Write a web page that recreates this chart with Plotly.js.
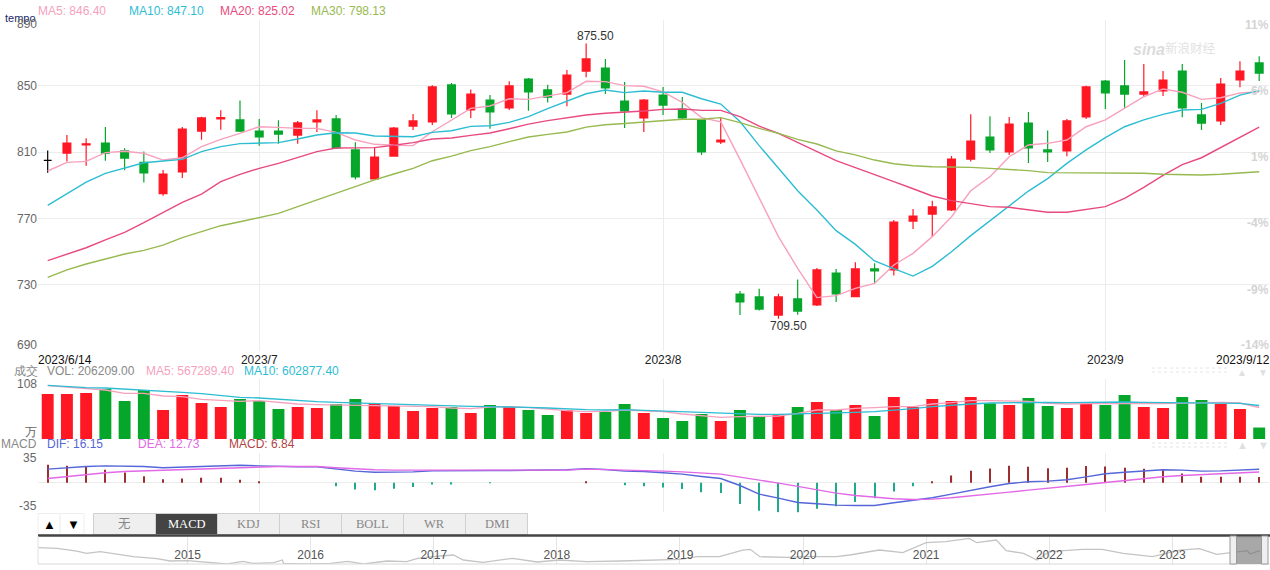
<!DOCTYPE html>
<html>
<head>
<meta charset="utf-8">
<script src="https://cdn.plot.ly/plotly-3.0.1.min.js"></script>
<style>html,body{margin:0;padding:0;background:#fff;overflow:hidden}#chart{width:1270px;height:570px}</style>
</head>
<body>
<div id="chart"></div>
<script>
const dates = ['2023-06-14','2023-06-15','2023-06-16','2023-06-19','2023-06-20','2023-06-21','2023-06-26','2023-06-27','2023-06-28','2023-06-29','2023-06-30',
'2023-07-03','2023-07-04','2023-07-05','2023-07-06','2023-07-07','2023-07-10','2023-07-11','2023-07-12','2023-07-13','2023-07-14','2023-07-17','2023-07-18','2023-07-19','2023-07-20','2023-07-21','2023-07-24','2023-07-25','2023-07-26','2023-07-27','2023-07-28','2023-07-31',
'2023-08-01','2023-08-02','2023-08-03','2023-08-04','2023-08-07','2023-08-08','2023-08-09','2023-08-10','2023-08-11','2023-08-14','2023-08-15','2023-08-16','2023-08-17','2023-08-18','2023-08-21','2023-08-22','2023-08-23','2023-08-24','2023-08-25','2023-08-28','2023-08-29','2023-08-30','2023-08-31',
'2023-09-01','2023-09-04','2023-09-05','2023-09-06','2023-09-07','2023-09-08','2023-09-11','2023-09-12','2023-09-13'];
const open  = [805.0,809.4,814.4,815.5,810.7,803.8,784.9,798.0,822.7,830.0,829.4,822.7,822.7,820.3,828.2,830.0,811.3,793.8,807.6,825.7,
828.2,850.5,835.4,841.4,836.6,854.1,847.5,845.0,858.9,860.7,840.8,830.6,844.4,836.0,829.4,816.1,724.4,722.6,711.7,721.4,717.8,737.0,722.8,739.5,738.9,768.4,772.6,775.1,
805.8,819.1,810.1,827.5,811.3,810.7,831.2,852.9,849.9,845.0,846.9,858.9,832.4,828.8,853.5,863.8];
const close = [805.0,815.5,815.0,809.4,806.4,797.4,796.8,823.9,830.6,830.8,822.7,819.1,820.9,827.6,829.4,812.5,795.0,807.0,824.5,828.8,
849.3,833.0,845.0,834.2,849.9,846.3,843.2,856.5,866.2,848.7,834.8,841.4,838.4,830.6,810.1,817.3,719.6,715.3,722.6,714.1,738.9,724.4,739.5,738.3,767.8,771.4,776.9,805.8,
816.7,811.3,826.9,812.5,810.1,828.8,849.3,845.7,845.0,846.3,853.5,836.6,827.5,851.1,858.9,857.7];
const high  = [810.9,820.3,818.3,825.1,812.3,810.3,799.2,825.1,831.4,835.2,841.2,830.0,829.2,828.8,835.2,832.4,815.9,813.1,825.1,833.0,
850.3,851.7,847.7,844.4,852.7,854.7,850.7,859.5,875.5,866.2,852.3,842.0,849.3,843.2,830.0,830.6,726.2,727.6,724.6,733.2,740.1,739.5,743.5,742.9,769.0,775.7,780.7,807.6,
832.8,831.6,831.2,834.2,823.1,830.0,850.1,853.5,865.6,863.2,858.9,863.2,839.6,854.7,864.8,867.8];
const low   = [797.6,804.4,801.8,804.8,799.0,791.6,783.7,794.4,817.5,823.5,822.1,813.9,815.1,815.1,822.1,811.9,793.4,793.8,807.6,823.3,
826.3,830.6,830.6,824.1,835.4,835.0,840.0,837.6,855.1,845.0,824.5,822.1,832.4,829.8,808.3,814.9,711.7,714.5,709.5,711.9,717.1,719.6,722.8,730.8,735.6,763.6,758.8,774.5,
804.4,809.5,808.3,803.4,804.0,807.5,830.0,836.0,836.4,843.2,843.8,831.0,823.3,826.3,849.1,852.9];

const ma5  = [798.6,803.8,804.4,809.7,810.5,809.3,805.2,806.6,813.3,817.7,821.3,825.3,824.9,824.3,824.3,821.9,817.3,814.7,814.1,813.9,
822.3,829.4,836.4,837.8,842.2,841.8,843.8,845.9,852.7,852.5,850.1,849.7,846.3,840.0,830.8,828.2,805.6,782.1,759.0,739.9,722.2,723.4,727.8,730.8,741.9,748.9,759.0,771.0,
786.7,795.2,807.2,814.3,815.3,817.3,825.3,829.4,836.4,843.4,848.1,846.1,841.8,842.8,845.7,846.4];
const ma10 = [777.9,784.7,791.9,797.2,800.6,803.6,804.6,805.6,810.3,813.3,815.1,815.3,815.7,817.9,820.3,821.7,821.5,819.7,819.3,819.3,
821.9,822.9,825.5,825.9,827.9,831.4,836.2,840.8,845.2,847.5,845.9,846.9,846.1,846.1,842.2,839.0,828.4,813.9,800.2,786.7,775.1,762.6,754.3,744.3,739.7,735.2,741.1,749.9,
759.6,768.6,777.7,786.5,794.0,803.2,811.3,818.7,825.3,829.4,832.8,835.4,835.8,839.4,844.4,847.1];
const ma20 = [744.5,748.5,752.3,757.0,761.6,767.4,773.7,779.7,784.7,792.2,796.6,800.2,803.2,806.8,810.3,812.5,812.7,812.7,814.1,815.7,
817.9,818.5,820.1,821.5,824.1,826.9,829.0,830.6,832.4,833.4,834.0,834.8,835.8,836.0,835.2,835.2,831.4,825.7,821.3,815.7,810.3,804.8,800.6,796.2,792.2,787.9,783.5,780.7,
778.7,777.1,776.7,775.3,773.7,773.7,775.5,777.1,782.1,788.7,796.0,802.4,806.6,812.7,818.9,825.02];
const ma30 = [734.4,738.9,742.5,745.3,748.5,750.7,753.9,758.4,762.2,765.6,768.0,770.4,773.0,777.1,781.1,785.5,789.1,793.2,796.8,800.2,
804.8,807.6,810.9,813.3,816.3,819.1,820.7,822.1,825.1,826.5,827.3,828.2,829.0,829.8,829.8,830.8,827.8,824.3,821.3,817.7,814.9,810.7,808.3,805.2,803.0,801.8,801.2,801.2,
800.8,800.2,799.6,798.8,797.6,797.6,797.6,797.6,797.4,797.2,796.6,796.2,796.2,796.6,797.2,798.13];

const volume = [81,81,82.8,90,68.4,88.2,52.2,79.2,64.8,57.6,72,68.4,54,57.6,55.8,63,72,63,59.4,50.4,
55.8,57.6,46.8,61.2,57.6,52.2,43.2,52.2,46.8,48.6,63,46.8,37.8,32.4,45,32.4,52.2,41.4,45,57.6,66.6,52.2,
61.2,41.4,75.6,57.6,72,68.4,75.6,64.2,61.2,73.8,59.4,55.8,64.2,61.2,79.2,57.6,55.8,75.6,70.2,63,54,20.62];
const volUp = [1,1,1,0,0,0,1,1,1,1,0,0,0,1,1,0,0,1,1,1,
1,0,1,0,1,0,0,1,1,0,0,1,0,0,0,1,0,0,1,0,1,0,
1,0,1,1,1,1,1,0,1,0,0,1,1,0,0,1,1,0,0,1,1,0];
const volMa5 = [96,93,90.6,88.2,82.2,82.2,77.4,76.2,71.4,70.2,67.8,69,65.4,63,61.8,61.2,61.8,61.2,60.6,60,
58.2,55.8,54.6,57.6,58.2,56.4,53.4,51,49.2,49.8,52.2,51,49.2,45,41.4,39,40.2,40.2,41.4,46.2,52.2,52.2,
55.2,56.4,58.2,58.2,63,65.4,69,69,67.8,67.8,64.2,63,63.6,64.2,64.8,64.2,63.6,64.8,65.4,66,64.8,56.73];
const volMa10 = [96.6,94.2,92.4,91.8,90,88.8,86.4,84,81.6,78.6,75,73.8,71.4,69,67.2,66,64.8,64.2,63.6,61.8,
61.2,60,58.8,58.2,58.2,57,55.8,54,52.8,52.2,52.8,51.6,50.4,48.6,47.4,45.6,45,44.4,44.4,45,46.8,47.4,
48,49.2,51.6,54.6,58.2,61.2,63,64.8,65.4,65.4,66,65.4,66,66,66.6,66,65.4,65.4,65.4,64.8,64.2,60.29];

const dif = [16.2,17.8,19.4,20.1,20.1,19.4,17.8,18.6,20.1,20.9,20.9,20.1,19.4,19.0,19.0,16.2,13.8,12.6,12.6,13.0,
14.2,14.6,14.6,14.6,14.6,14.6,15.0,15.4,16.6,15.8,13.8,13.4,11.9,10.3,7.5,5.1,-3.2,-13.4,-18.2,-23.3,-24.9,-26.5,
-26.9,-26.9,-23.7,-20.9,-17.8,-13.4,-8.7,-4.7,-0.8,1.2,2.0,3.6,7.1,10.7,12.6,14.2,15.4,15.0,13.8,14.2,15.4,16.15];
const dea = [5.1,7.5,9.9,11.9,13.4,14.2,15.4,16.2,17.0,17.8,18.6,19.4,19.4,19.4,19.4,17.8,16.2,15.4,15.0,15.0,
14.2,14.6,14.6,14.6,14.6,14.6,14.6,15.0,16.2,15.8,15.4,14.2,13.8,13.0,11.9,10.3,6.7,3.6,-0.4,-4.3,-8.3,-12.2,
-15.0,-17.4,-19.0,-19.8,-19.4,-17.8,-15.8,-13.4,-11.1,-8.7,-6.7,-4.3,-2.0,0.4,2.8,5.1,7.1,8.7,9.5,10.7,11.9,12.73];
const macd = [21.3,20.1,19.0,15.4,12.2,7.9,4.3,5.1,5.9,5.9,3.6,1.2,0,0,0,-4.0,-7.9,-8.7,-7.1,-5.1,
-2.0,-2.0,0,-0.5,0,0,0,0,1.2,0,-2.8,-4.0,-5.5,-7.5,-11.1,-12.2,-25.3,-33.2,-35.2,-35.5,-30.8,-27.7,
-22.8,-18.2,-10.3,-4.0,1.2,8.7,14.2,17.0,20.1,19.0,17.4,17.8,19.8,19.4,17.8,16.6,15.0,11.1,7.1,7.1,7.1,6.84];

const overviewYears = [2013.79,2013.94,2014.10,2014.18,2014.29,2014.56,2014.75,2014.86,2015.0,2015.16,2015.32,2015.45,2015.53,2015.70,2015.77,2015.78,2015.97,2016.16,2016.30,2016.43,2016.62,2016.78,2016.87,
2017.05,2017.16,2017.24,2017.40,2017.64,2017.84,2018.02,2018.24,2018.51,2018.78,2019.0,2019.14,2019.32,2019.51,2019.57,2019.65,2019.87,2020.03,2020.27,
2020.38,2020.62,2020.81,2020.92,2021.0,2021.16,2021.35,2021.41,2021.57,2021.65,2021.79,2021.90,2022.0,2022.27,2022.43,2022.6,2022.84,2023.06,2023.22,2023.36,2023.47,2023.61,2023.63,2023.71];
const overviewValues = [49,47,39,32,37,22,16,9,10,4,0,8,2,4,12,2,0,2,8,0,9,7,17,
24,27,12,5,17,6,12,7,9,12,14,22,22,42,44,22,20,22,22,
27,42,34,52,64,67,77,64,72,40,32,12,37,44,44,32,22,42,46,29,34,40,30,40];
const overviewTicks = [2015,2016,2017,2018,2019,2020,2021,2022,2023];

const priceTicks = [690,730,770,810,850,890];
const percentLabels = ['-14%','-9%','-4%','1%','6%','11%'];
const monthTicks = ['2023-07-03','2023-08-01','2023-09-01'];
const monthLabels = ['2023/7','2023/8','2023/9'];
const tabLabels = ['无','MACD','KDJ','RSI','BOLL','WR','DMI'];

const RED='#FF1723', GREEN='#05A62A', C5='#F7A1BD', C10='#2DBDD3', C20='#E84A80', C30='#97B94F';
const FONT='"Liberation Sans", Arial, sans-serif';
const W=1270, H=570;
const fx=p=>p/W, fy=p=>1-p/H;
const line=(y,color,yaxis,name,w)=>({type:'scatter',mode:'lines',x:dates,y,name,yaxis,xaxis:'x',line:{color,width:w||1.4},hoverinfo:'skip'});

const traces=[
 {type:'candlestick',name:'K',x:dates.slice(1),open:open.slice(1),high:high.slice(1),low:low.slice(1),close:close.slice(1),
  increasing:{line:{color:RED,width:1.2},fillcolor:RED},decreasing:{line:{color:GREEN,width:1.2},fillcolor:GREEN},hoverinfo:'skip',xaxis:'x',yaxis:'y'},
 {type:'candlestick',name:'K0',x:dates.slice(0,1),open:open.slice(0,1),high:high.slice(0,1),low:low.slice(0,1),close:close.slice(0,1),
  increasing:{line:{color:'#000',width:1.2},fillcolor:'#000'},decreasing:{line:{color:'#000',width:1.2},fillcolor:'#000'},hoverinfo:'skip',xaxis:'x',yaxis:'y'},
 line(ma5,C5,'y','MA5'),line(ma10,C10,'y','MA10'),line(ma20,C20,'y','MA20'),line(ma30,C30,'y','MA30'),
 {type:'bar',name:'VOL',x:dates,y:volume,width:0.62,marker:{color:volUp.map(u=>u?RED:GREEN),line:{width:0}},xaxis:'x',yaxis:'y2',hoverinfo:'skip'},
 line(volMa5,C5,'y2','VOL MA5'),line(volMa10,C10,'y2','VOL MA10'),
 {type:'bar',name:'MACD',x:dates,y:macd,width:0.06,marker:{color:macd.map(v=>v>=0?'#9B2F2F':'#1FA98F'),line:{width:0}},xaxis:'x',yaxis:'y3',hoverinfo:'skip'},
 line(dif,'#5566D8','y3','DIF'),line(dea,'#E268E6','y3','DEA'),
 {type:'scatter',mode:'lines',name:'overview',x:overviewYears,y:overviewValues,line:{color:'#C4C4C4',width:1.3},xaxis:'x2',yaxis:'y4',hoverinfo:'skip'}
];

const txt=(text,x,y,color,size,anchor,extra)=>Object.assign({text,x:fx(x),y:fy(y),xref:'paper',yref:'paper',xanchor:anchor||'left',yanchor:'middle',
  showarrow:false,borderpad:0,borderwidth:0,font:{family:FONT,size:size||12,color:color||'#666'}},extra||{});

const annotations=[
 txt('MA5: 846.40',38,11,C5),txt('MA10: 847.10',129,11,C10),txt('MA20: 825.02',220,11,C20),txt('MA30: 798.13',311,11,C30),
 txt('tempo',5,18,'#1B2A6B',11),
 txt(String(priceTicks[5]),37,24,'#666',12,'right'),txt(String(priceTicks[0]),37,345,'#666',12,'right'),
 txt('2023/6/14',38,360,'#111',12),txt('2023/9/12',1270,360,'#111',12,'right'),
 txt('成交',38,371,'#888',12,'right'),txt('VOL: 206209.00',47,370.5,'#888'),txt('MA5: 567289.40',146,370.5,C5),txt('MA10: 602877.40',244,370.5,C10),
 txt('108',37,384,'#666',12,'right'),txt('万',37,432,'#666',12,'right'),
 txt('MACD',37,444,'#888',12,'right'),txt('DIF: 16.15',47,444,'#5566D8'),txt('DEA: 12.73',138,444,'#E268E6'),txt('MACD: 6.84',229,444,'#B04545'),
 txt('35',37,458,'#666',12,'right'),txt('-35',37,506,'#666',12,'right'),
 txt('▲',49,524,'#000',13,'center'),txt('▼',73,524,'#000',13,'center'),
 txt('▲',1242,372,'#E0E0E0',10,'center'),txt('▼',1263,372,'#E0E0E0',10,'center'),
 txt('▲',1242,445,'#E0E0E0',11,'center'),txt('▼',1263,445,'#E0E0E0',11,'center'),
 txt('sina',1133,49,'#D4D4D4',15,'left',{font:{family:FONT,size:16,color:'#DCDCDC',weight:700,style:'italic'}}),
 txt('新浪财经',1165,47,'#DADADA',13,'left',{font:{family:'"Noto Sans CJK SC"',size:12.5,color:'#E2E2E2'}}),
 {text:'875.50',x:dates[28],y:875.5,xref:'x',yref:'y',yshift:8,xshift:9,xanchor:'center',yanchor:'middle',showarrow:false,font:{family:FONT,size:12,color:'#333'}},
 {text:'709.50',x:dates[38],y:709.5,xref:'x',yref:'y',yshift:-7,xshift:10,xanchor:'center',yanchor:'middle',showarrow:false,font:{family:FONT,size:12,color:'#333'}},
];
percentLabels.forEach((t,i)=>{
  const yp = 351-(priceTicks[i]-690)*1.6575 + (i===0?-6:5);
  annotations.push(txt(t,1269,yp,'#D4D4D4',12,'right',{font:{family:FONT,size:12,color:'#D4D4D4',weight:700}}));
});

const shapes=[];
const rect=(x0,y0,x1,y1,fill,lineColor,lw)=>shapes.push({type:'rect',xref:'paper',yref:'paper',x0:fx(x0),x1:fx(x1),y0:fy(y0),y1:fy(y1),fillcolor:fill,line:{color:lineColor||fill,width:lw===undefined?1:lw},layer:'above'});
const seg=(x0,y0,x1,y1,color,w,dash)=>shapes.push({type:'line',xref:'paper',yref:'paper',x0:fx(x0),x1:fx(x1),y0:fy(y0),y1:fy(y1),line:{color,width:w||1,dash:dash||'solid'},layer:'above'});

rect(38,513.5,60,534.5,'#fff','#EEEEEE'); rect(60,513.5,84,534.5,'#fff','#EEEEEE');
tabLabels.forEach((t,i)=>{
  const x0=93.5+i*62;
  const on=t==='MACD';
  rect(x0,513.5,x0+62,534.5,on?'#444444':'#EFEFEF','#D0D0D0');
  annotations.push(txt(t,x0+31,524,on?'#FFFFFF':'#888888',12,'center',{font:{family:'"Liberation Serif","Noto Sans CJK SC",serif',size:12.5,color:on?'#FFFFFF':'#888888'}}));
});
seg(38,535.5,1270,535.5,'#444444',2.5);
seg(38,564,1270,564,'#D8D8D8',1);
seg(38,536,38,564,'#E0E0E0',1);
rect(1233,537,1262,563.5,'rgba(110,110,110,0.6)','#888888',0.5);
rect(1230,536,1236.5,564,'#EFEFEF','#999999',1);
rect(1261.5,536,1268,564,'#EFEFEF','#999999',1);
seg(1152,368,1229,368,'#E4E4E4',1,'dot');seg(1152,372,1229,372,'#E4E4E4',1,'dot');
seg(1152,443,1229,443,'#E4E4E4',1,'dot');seg(1152,447,1229,447,'#E4E4E4',1,'dot');

const GRID='#ECECEC';
const layout={
 width:W,height:H,margin:{l:0,r:0,t:0,b:0,pad:0},paper_bgcolor:'#fff',plot_bgcolor:'#fff',showlegend:false,
 hovermode:false,dragmode:false,boxgap:0.42,bargap:0.38,barmode:'overlay',
 font:{family:FONT,size:12,color:'#666'},
 xaxis:{type:'category',categoryorder:'array',categoryarray:dates,domain:[fx(38),fx(1269)],range:[-0.504,63.51],anchor:'y',
   rangeslider:{visible:false},tickmode:'array',tickvals:monthTicks,ticktext:monthLabels,ticks:'',ticklen:0,tickangle:0,
   tickfont:{family:FONT,size:12,color:'#222'},showgrid:true,gridcolor:GRID,gridwidth:1,zeroline:false,showline:false},
 yaxis:{domain:[fy(351),fy(19.5)],range:[690,890],tickmode:'array',tickvals:priceTicks,ticktext:['','730','770','810','850',''],ticks:'',
   tickfont:{family:FONT,size:12,color:'#666'},showgrid:true,gridcolor:GRID,zeroline:false,showline:false,fixedrange:true},
 yaxis2:{domain:[fy(439),fy(379)],range:[0,108],tickmode:'array',tickvals:[0,108],ticktext:['',''],ticks:'',showgrid:true,gridcolor:GRID,zeroline:false,showline:false,anchor:'x'},
 yaxis3:{domain:[fy(512.3),fy(453.3)],range:[-35,35],tickmode:'array',tickvals:[-35,0,35],ticktext:['','',''],ticks:'',showgrid:true,gridcolor:GRID,zeroline:false,showline:false,anchor:'x'},
 xaxis2:{type:'linear',domain:[fx(38),fx(1269)],range:[2013.785,2023.785],anchor:'y4',tickmode:'array',tickvals:overviewTicks,ticktext:overviewTicks.map(String),
   ticks:'',ticklabelposition:'inside',tickfont:{family:FONT,size:12,color:'#555'},showgrid:true,gridcolor:'#E4E4E4',zeroline:false,showline:false},
 yaxis4:{domain:[fy(564),fy(536.7)],range:[0,82],showticklabels:false,ticks:'',showgrid:false,zeroline:false,showline:false,anchor:'x2'},
 annotations,shapes
};
Plotly.newPlot('chart',traces,layout,{displayModeBar:false,responsive:false});
</script>
</body>
</html>
